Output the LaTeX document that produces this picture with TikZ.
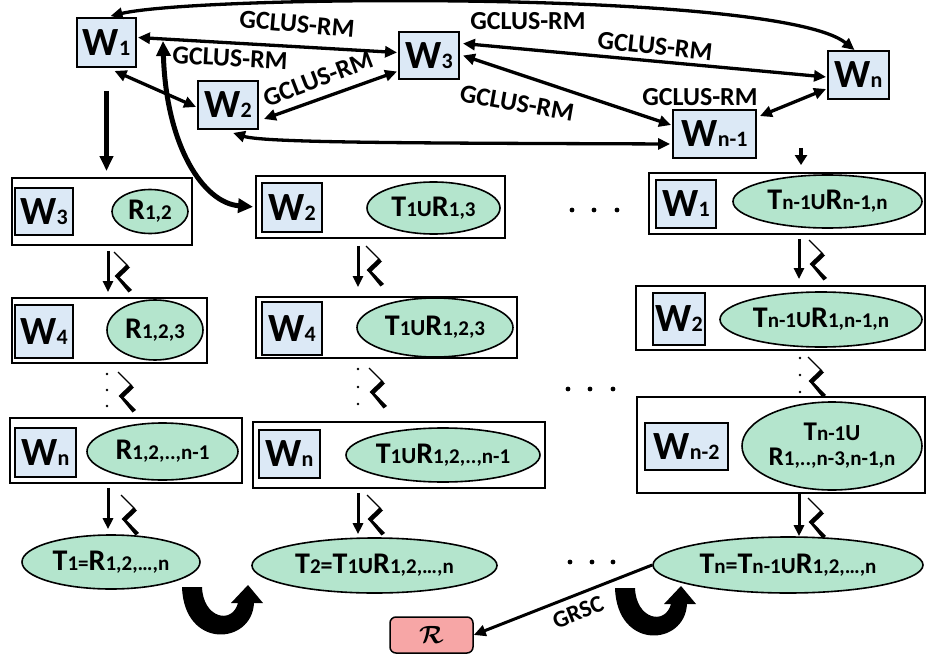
\documentclass[tikz,border=0pt]{standalone}
\usepackage{fontspec}
\setmainfont{Carlito}
\usepackage{amsmath}
\usetikzlibrary{shapes.geometric,arrows.meta,calc}
\definecolor{wblue}{RGB}{220,233,246}
\definecolor{egreen}{RGB}{180,229,205}
\definecolor{rpink}{RGB}{247,166,166}
\newcommand\wlab[1]{{\fontsize{40}{40}\selectfont W}{\fontsize{22}{22}\selectfont #1}}
\newcommand\sbs[1]{{\fontsize{21}{21}\selectfont #1}}
\newcommand\uni{{\fontsize{23}{23}\selectfont U}}
\newcommand\zig[2]{\begin{scope}[shift={(#1,#2)}]
  \draw[line width=1.2pt] (1,0) -- (15,14);
  \fill (13.5,12.5) -- (17,15.5) -- (5,27) -- (1.5,24) -- cycle;
  \fill (2,24) -- (5,23.5) -- (19,38) -- (15.5,40.5) -- cycle;
\end{scope}}
\newcommand\uarrow[2]{\fill[shift={(#1,#2)}] (182,587) -- (202,587) .. controls (203,618) and (232,625) .. (238,603) -- (231,603) -- (248,585) -- (263,603) -- (254,603) .. controls (252,645) and (184,650) .. (182,587) -- cycle;}
\begin{document}
\begin{tikzpicture}[x=1pt,y=-1pt,font=\bfseries,
 wbox/.style={draw,line width=1.9pt,fill=wblue,inner sep=0pt},
 colbox/.style={draw,line width=1.9pt,fill=white,inner sep=0pt},
 ell/.style={ellipse,draw,line width=1.6pt,fill=egreen,inner sep=0pt,font=\bfseries\fontsize{30}{30}\selectfont},
 lbl/.style={font=\bfseries\fontsize{26}{26}\selectfont,inner sep=0pt},
 dbl/.style={{Triangle[length=12pt,width=11pt]}-{Triangle[length=12pt,width=11pt]},line width=3.3pt},
 varrow/.style={-{Triangle[length=11pt,width=10pt]},line width=3pt},
]
\useasboundingbox (0,0) rectangle (928,655);

% ---------- top nodes ----------
\node[wbox,minimum width=59,minimum height=49] (W1) at (106.5,42.5) {\wlab{1}};
\node[wbox,minimum width=60,minimum height=48] (W2) at (228,105) {\wlab{2}};
\node[wbox,minimum width=60,minimum height=47] (W3) at (429,55.5) {\wlab{3}};
\node[wbox,minimum width=61,minimum height=48] (Wn) at (858.5,75) {\wlab{n}};
\node[wbox,minimum width=83,minimum height=48] (Wn1) at (714.5,134) {\wlab{n-1}};

% ---------- top connectors ----------
\draw[dbl] ($(W1.north)+(4,-1)$) .. controls (200,-5) and (780,-10) .. ($(Wn.north)+(-4,0)$);
\draw[dbl] ($(W1.east)+(1,-5)$) -- ($(W3.west)+(-1,-3)$);
\draw[dbl] ($(W1.south)+(8,3)$) -- ($(W2.west)+(-1,2)$);
\draw[dbl] ($(W2.east)+(5,14)$) -- ($(W3.west)+(-1,16)$);
\draw[dbl] ($(W2.south)+(5,3)$) .. controls (265,143) and (420,143) .. ($(Wn1.west)+(-2,10)$);
\draw[dbl] ($(W3.east)+(3,-12)$) -- ($(Wn.west)+(-1,2)$);
\draw[dbl] ($(W3.east)+(3,0)$) -- ($(Wn1.west)+(-1,-9)$);
\draw[dbl] ($(Wn1.north east)+(3,7)$) -- ($(Wn.west)+(-1,14)$);

\node[lbl,rotate=-5] (g1) at (297,24) {GCLUS-RM};
\node[lbl,rotate=-3] (g2) at (230,58) {GCLUS-RM};
\node[lbl] (g3) at (528,21) {GCLUS-RM};
\node[lbl,rotate=-6] (g4) at (655,46) {GCLUS-RM};
\node[lbl,rotate=21] (g5) at (318,79) {GCLUS-RM};
\node[lbl,rotate=-10] (g6) at (517,103) {GCLUS-RM};
\node[lbl] (g7) at (700,97) {GCLUS-RM};

% ---------- column 1 ----------
\node[colbox,minimum width=180,minimum height=67] (A1) at (102,211.5) {};
\node[wbox,minimum width=58,minimum height=47] (A1w) at (44,211.5) {\wlab{3}};
\node[ell,minimum width=76,minimum height=44] (A1e) at (150,211.5) {R\sbs{1,2}};

\node[colbox,minimum width=195,minimum height=65] (A2) at (109.5,330.5) {};
\node[wbox,minimum width=58,minimum height=53] (A2w) at (44,331.5) {\wlab{4}};
\node[ell,minimum width=96,minimum height=60] (A2e) at (155,330) {R\sbs{1,2,3}};

\node[colbox,minimum width=232,minimum height=65] (A3) at (126,450.5) {};
\node[wbox,minimum width=61,minimum height=49] (A3w) at (45.5,452.5) {\wlab{n}};
\node[ell,minimum width=151,minimum height=57] (A3e) at (162.5,451.5) {R\sbs{1,2,..,n-1}};

\node[ell,minimum width=178,minimum height=54] (T1) at (111,562) {T\sbs{1=}R\sbs{1,2,…,n}};

% ---------- column 2 ----------
\node[colbox,minimum width=249,minimum height=62] (B1) at (380.5,207) {};
\node[wbox,minimum width=60,minimum height=49] (B1w) at (292,207.5) {\wlab{2}};
\node[ell,minimum width=133,minimum height=52] (B1e) at (433.5,208) {T\sbs{1}\uni R\sbs{1,3}};

\node[colbox,minimum width=261,minimum height=61] (B2) at (386.5,327.5) {};
\node[wbox,minimum width=60,minimum height=53] (B2w) at (292,328.5) {\wlab{4}};
\node[ell,minimum width=156,minimum height=59] (B2e) at (435,327.5) {T\sbs{1}\uni R\sbs{1,2,3}};

\node[colbox,minimum width=292,minimum height=66] (B3) at (399,455) {};
\node[wbox,minimum width=61,minimum height=48] (B3w) at (289.5,454) {\wlab{n}};
\node[ell,minimum width=194,minimum height=54] (B3e) at (443,455) {T\sbs{1}\uni R\sbs{1,2,..,n-1}};

\node[ell,minimum width=245,minimum height=55] (T2) at (374.5,565.5) {T\sbs{2}{\fontsize{24}{24}\selectfont =}T\sbs{1}\uni R\sbs{1,2,…,n}};

\node[draw,line width=1.5pt,fill=rpink,rounded corners=6pt,minimum width=83,minimum height=36,inner sep=0pt] (R) at (431.5,635) {\fontsize{26}{26}\selectfont$\boldsymbol{\mathcal{R}}$};

% ---------- column 3 ----------
\node[colbox,minimum width=276,minimum height=61] (C1) at (787,203.5) {};
\node[wbox,minimum width=60,minimum height=48] (C1w) at (686,204) {\wlab{1}};
\node[ell,minimum width=189,minimum height=53] (C1e) at (827.5,201.5) {T\sbs{n-1}\uni R\sbs{n-1,n}};

\node[colbox,minimum width=289,minimum height=64] (C2) at (780.5,318) {};
\node[wbox,minimum width=52,minimum height=52] (C2w) at (679,319) {\wlab{2}};
\node[ell,minimum width=202,minimum height=55] (C2e) at (821,319.5) {T\sbs{n-1}\uni R\sbs{1,n-1,n}};

\node[colbox,minimum width=288,minimum height=96] (C3) at (781,445) {};
\node[wbox,minimum width=83,minimum height=47] (C3w) at (686.5,446.5) {\wlab{n-2}};
\node[ell,minimum width=180,minimum height=88,align=center,font=\bfseries\fontsize{27}{25}\selectfont] (C3e) at (832,446) {T\sbs{n-1}\uni\\R\sbs{1,..,n-3,n-1,n}};

\node[ell,minimum width=270,minimum height=56] (Tn) at (788,565) {T\sbs{n}{\fontsize{24}{24}\selectfont =}T\sbs{n-1}\uni R\sbs{1,2,…,n}};

% ---------- vertical connectors ----------
\coordinate (x1) at (108,0);
\coordinate (x2) at (358,0);
\coordinate (x3) at (799,0);
\coordinate (s3) at (801,148);
\coordinate (cup) at (163,41);

\draw[-{Triangle[length=15pt,width=13pt]},line width=4.5pt,shorten <=23pt,shorten >=6pt] (W1.south) -- (A1.north -| W1.south);
\draw[-{Triangle[length=10pt,width=12pt]},line width=4pt,shorten >=7pt] (s3) -- (C1.north -| s3);
\draw[{Triangle[length=15pt,width=14pt]}-{Triangle[length=15pt,width=14pt]},line width=5pt,shorten >=2pt] (cup) .. controls (166,145) and (203,203) .. (B1.west);

\draw[varrow,shorten <=5pt,shorten >=5pt] (A1.south -| x1) -- (A2.north -| x1);
\draw[varrow,shorten <=4pt,shorten >=5pt] (A3.south -| x1) -- (T1.north -| x1);
\draw[varrow,shorten <=7pt,shorten >=9pt] (B1.south -| x2) -- (B2.north -| x2);
\draw[varrow,shorten <=4pt,shorten >=3pt] (B3.south -| x2) -- (T2.north -| x2);
\draw[varrow,shorten <=4pt,shorten >=6pt] (C1.south -| x3) -- (C2.north -| x3);
\draw[varrow,shorten <=0pt,shorten >=0pt] (C3.south -| x3) -- (Tn.north -| x3);

% GRSC
\draw[-{Triangle[length=12pt,width=11pt]},line width=3pt] (Tn.west) -- (R.east);
\node[font=\bfseries\fontsize{24}{24}\selectfont,rotate=22,inner sep=0pt] (grsc) at (578,612) {GRSC};

% ---------- zigzag marks ----------
\zig{113}{252}
\zig{117}{372}
\zig{120}{495}
\zig{365}{246}
\zig{368}{368}
\zig{366}{495}
\zig{808}{240}
\zig{807}{357}
\zig{807}{498}

% ---------- dots ----------
\foreach \yy in {374,390,406} \fill (107,\yy) circle (1.3pt);
\foreach \yy in {369,387,404} \fill (358,\yy) circle (1.3pt);
\foreach \yy in {358,375,392} \fill (800,\yy) circle (1.3pt);
\foreach \xx in {572,594,617} \fill (\xx,210) circle (2.4pt);
\foreach \xx in {568,590,613} \fill (\xx,389) circle (2.4pt);
\foreach \xx in {570,592,613} \fill (\xx,562) circle (2.4pt);

% ---------- U-turn arrows ----------
\uarrow{0}{0}
\uarrow{433}{1}
\end{tikzpicture}
\end{document}
